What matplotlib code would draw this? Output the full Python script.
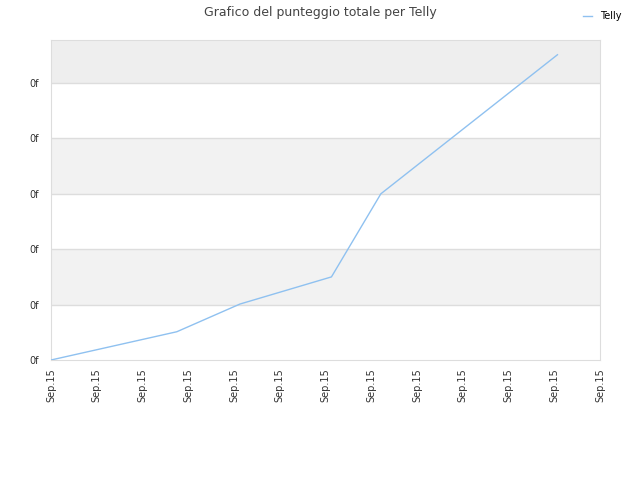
import matplotlib
matplotlib.use('Agg')
import matplotlib.pyplot as plt

# dati
x_vals = [0, 2.75, 4.13, 6.13, 7.21, 11.07]
punteggio = [0, 0.51, 1.01, 1.5, 3.0, 5.51]
x_ticks = list(range(13))
x_labels = ['Sep.15'] * 13
y_ticks = [0, 1, 2, 3, 4, 5]
y_labels = ['0f'] * 6

fig = plt.figure(figsize=(6.4, 4.8), dpi=100)
ax = fig.add_axes([51 / 640, 0.25, 549 / 640, 320 / 480])

ymax = 320 / 55.4
ax.set_xlim(0, 12)
ax.set_ylim(0, ymax)

# bande alternate
bands = [(1, 2, '#f2f2f2'), (3, 4, '#f2f2f2'), (5, ymax, '#eeeeee')]
for lo, hi, c in bands:
    ax.axhspan(lo, hi, color=c, zorder=0, lw=0)
for y in y_ticks[1:]:
    ax.axhline(y, color='#dddddd', lw=1, zorder=1)

ax.plot(x_vals, punteggio, color='#8fc1f0', lw=1, label='Telly', zorder=3)

ax.set_xticks(x_ticks)
ax.set_xticklabels(x_labels, rotation=90, fontsize=7, color='#333333')
ax.set_yticks(y_ticks)
ax.set_yticklabels(y_labels, fontsize=7, color='#333333')
ax.tick_params(axis='x', length=0, pad=6)
ax.tick_params(axis='y', length=0, pad=9)

for s in ax.spines.values():
    s.set_color('#dddddd')

fig.text(0.5, 0.988, 'Grafico del punteggio totale per Telly', ha='center', va='top',
         fontsize=9, color='#444444')
fig.legend(loc='upper right', bbox_to_anchor=(0.985, 0.995), frameon=False, fontsize=7,
           handlelength=1.0)

fig.savefig('out.png', dpi=100)
